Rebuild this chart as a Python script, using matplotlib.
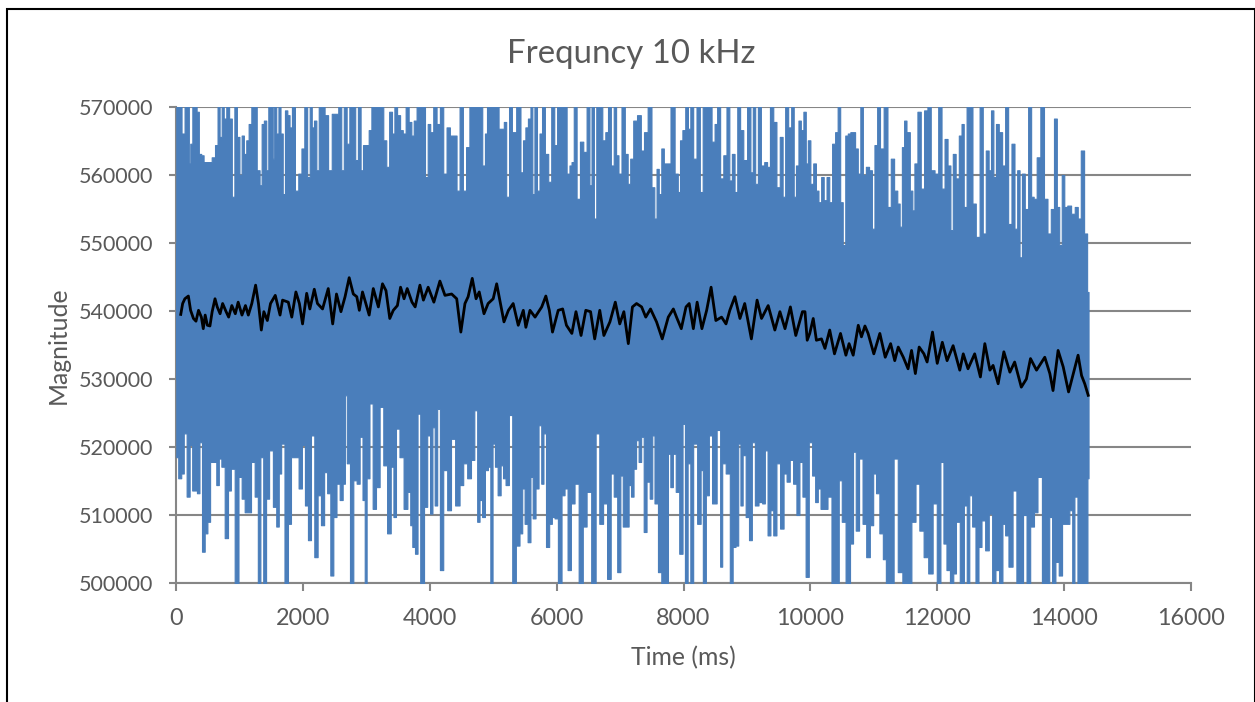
import numpy as np
import matplotlib
matplotlib.use("Agg")
import matplotlib.pyplot as plt
from matplotlib.patches import Rectangle

TITLE = "Frequncy 10 kHz"
X_LABEL = "Time (ms)"
Y_LABEL = "Magnitude"
X_TICKS = [0, 2000, 4000, 6000, 8000, 10000, 12000, 14000, 16000]
Y_TICKS = [500000, 510000, 520000, 530000, 540000, 550000, 560000, 570000]

# Upper edge of the noisy raw signal (values above 570000 are cut by the axis)
upper_t = [0,10,60,115,155,195,210,240,275,310,340,380,415,455,535,590,640,670,705,735,770,815,860,900,940,980,1020,1050,1090,1125,1165,1210,1245,1300,1335,1365,1405,1440,1470,1515,1535,1560,1600,1630,1665,1700,1735,1775,1805,1850,1900,1955,2000,2045,2090,2125,2155,2195,2230,2270,2320,2365,2430,2480,2530,2585,2625,2665,2715,2750,2805,2845,2890,2930,2965,3015,3060,3100,3165,3240,3295,3335,3385,3425,3460,3510,3555,3595,3645,3690,3730,3765,3820,3900,3950,3985,4030,4080,4135,4185,4240,4290,4345,4395,4450,4490,4555,4590,4660,4740,4800,4855,4885,4920,
 4950,5025,5065,5105,5150,5185,5225,5275,5315,5410,5450,5490,5525,5570,5605,5630,5670,5710,5750,5790,5840,5895,5935,5990,6025,6080,6130,6185,6220,6250,6290,6340,6395,6445,6500,6535,6565,6610,6640,6695,6745,6790,6830,6880,6920,6955,6995,7050,7100,7140,7180,7235,7300,7355,7400,7470,7520,7560,7590,7630,7670,7710,7760,7830,7890,7930,7960,8005,8050,8090,8125,8180,8230,8285,8320,8375,8415,8470,8510,8550,8605,8650,8705,8740,8785,8825,8870,8915,8970,9035,9075,9110,9150,9195,9245,9300,9335,9390,9440,9490,9545,9580,9625,9675,9720,9755,9790,
 9834,9865,9915,9940,9980,10020,10070,10105,10150,10190,10230,10280,10315,10370,10410,10450,10490,10530,10570,10610,10650,10685,10725,10770,10805,10850,10900,10950,10990,11030,11075,11120,11190,11240,11295,11345,11395,11420,11465,11490,11540,11595,11620,11660,11715,11765,11820,11870,11925,11990,12040,12095,12135,12190,12225,12265,12315,12365,12400,12435,12490,12535,12575,12640,12695,12740,12790,12830,12865,12905,12945,12995,13050,13090,13145,13195,13240,13280,13315,13355,13405,13460,13500,13540,13595,13655,13710,13765,13815,13865,13905,13940,13985,14020,14080,14140,14195,14235,14290,14340,14385]
upper_v = [550000,571000,571000,566100,571000,571000,561700,564600,571000,571000,569300,563100,562900,561900,561900,562600,564400,571000,565600,571000,568300,571000,568300,556800,571000,565600,560000,565800,563100,565100,567500,571000,571000,560700,558500,567500,568000,560700,571000,571000,562400,571000,566100,571000,566100,557200,569500,568800,567000,571000,557700,560200,563900,571000,559700,571000,567000,568000,560700,571000,571000,568800,560700,569000,569000,571000,560700,571000,564600,571000,571000,562200,571000,560700,564400,564400,566600,571000,571000,571000,565100,561200,569300,566100,571000,568800,566600,566100,571000,567800,565800,568000,571000,571000,559700,567500,566300,571000,567500,571000,560200,567000,565800,565800,557700,571000,557700,564100,571000,571000,571000,561400,566100,571000,
 571000,571000,571000,566800,566800,567800,556800,571000,566300,571000,560400,565100,567000,568300,571000,557200,571000,557700,566100,571000,563100,559000,571000,564400,571000,571000,571000,560200,561400,561900,571000,556500,564900,563400,571000,558500,571000,553600,571000,571000,565100,566300,571000,561400,571000,562900,560200,571000,563100,558700,562400,568000,568800,563600,566300,571000,558200,553600,560900,557200,563900,561700,561700,571000,560200,557500,565100,566600,571000,566800,571000,562400,571000,557500,571000,571000,571000,564900,567500,571000,559500,562900,571000,559200,563100,557500,571000,566600,562200,571000,560400,571000,558700,571000,561400,561900,561200,571000,567800,558200,565600,556800,571000,567000,571000,556800,561400,
 568000,566600,569300,561700,565100,558700,561700,557700,556000,559700,556300,559700,556000,564600,566300,571000,556000,549700,565800,566100,566300,566300,563900,560200,571000,560000,561200,560700,552100,564400,571000,563900,571000,555300,562400,557700,555800,552400,564100,568000,566300,557700,554800,561700,569300,558000,569500,571000,560700,560200,571000,558000,565300,561400,551900,563100,559500,565800,567500,555300,571000,571000,555800,550900,571000,551400,563600,560700,569500,559700,567500,566300,561400,571000,552800,564600,552100,560700,547900,560200,555000,571000,556800,556500,562600,571000,556500,551400,555000,568300,555300,549700,560000,555300,555500,554300,555300,553600,563600,551400,542800]

# Lower edge of the noisy raw signal (values below 500000 are cut by the axis)
lower_t = [0,10,60,105,140,195,235,275,310,350,390,430,475,515,560,615,655,695,735,800,840,890,960,1010,1060,1105,1155,1210,1270,1310,1350,1400,1440,1495,1560,1600,1640,1675,1745,1785,1840,1900,1965,2005,2060,2100,2155,2205,2260,2310,2360,2405,2460,2500,2560,2600,2655,2670,2715,2770,2820,2875,2915,2965,2985,3025,3075,3125,3180,3240,3295,3360,3410,3445,3490,3555,3620,3675,3710,3740,3795,3820,3880,3940,3980,4030,4055,4100,4135,4185,4240,4310,4360,4440,4500,4555,4625,4675,4730,4765,4805,4845,4895,4940,
 4970,5010,5045,5095,5140,5170,5220,5275,5325,5390,5440,5475,5515,5570,5605,5640,5695,5735,5780,5805,5860,5905,5945,5990,6050,6105,6145,6200,6250,6315,6380,6445,6500,6590,6640,6705,6760,6830,6875,6925,6985,7025,7060,7115,7155,7190,7235,7270,7315,7350,7395,7440,7495,7520,7565,7630,7670,7735,7775,7810,7855,7900,7965,8005,8040,8090,8125,8180,8250,8290,8320,8385,8415,8485,8560,8595,8625,8705,8755,8795,8845,8880,8915,8950,9010,9055,9100,9150,9215,9265,9300,9350,9390,9440,9490,9555,9600,9650,9700,9755,9805,
 9850,9900,9950,10000,10055,10095,10140,10180,10235,10305,10360,10420,10475,10515,10595,10655,10690,10740,10795,10850,10910,10965,11015,11055,11120,11165,11215,11280,11345,11410,11490,11555,11630,11685,11750,11820,11895,11960,12025,12075,12120,12170,12230,12275,12315,12395,12445,12485,12525,12575,12630,12670,12725,12785,12840,12890,12945,13005,13050,13090,13155,13220,13275,13325,13380,13435,13495,13555,13605,13695,13745,13785,13835,13890,13940,13995,14050,14115,14140,14185,14235,14300,14350,14385]
lower_v = [530000,518500,515400,516100,522000,512700,520300,513600,513600,513200,520700,504600,507300,509000,517800,517800,514400,518300,517100,506600,513600,516800,499000,515600,512400,510400,510400,517800,512700,499000,518500,499000,512400,519500,511200,508300,516100,520500,499000,508700,518500,518500,513900,520300,511400,506300,521700,503800,512900,508500,516300,513200,501100,509700,514600,512200,514600,527600,517600,499000,515100,514600,521500,512200,499000,515400,526400,510900,514100,525900,517300,507300,517100,509700,522700,518500,510900,513400,508500,505300,504300,524900,499000,511200,521700,510200,522900,511400,525600,501900,516600,510700,521200,511400,514400,517600,515400,518100,525400,509000,512200,509700,516600,517100,
 499000,520500,517100,512900,517300,515400,514400,524700,499000,505500,507300,513900,508700,506000,515600,509500,513900,523200,514600,522000,505300,508700,509700,509500,499000,512900,513900,501900,511700,514600,499000,508300,513400,499000,522000,508700,511700,500600,516100,512700,501600,515800,508300,508300,514400,512700,516800,521000,517800,521500,507500,514900,512400,521700,511700,501600,499000,499000,519000,514100,519000,513400,504300,523400,499000,517600,499000,520500,508700,516600,499000,512900,521700,511700,522500,502400,517600,516100,499000,505300,505500,520500,511400,518800,509700,506300,520700,511400,511900,511700,519500,507000,510700,507000,517600,508000,516100,514900,518100,514600,510000,
 517800,512700,500900,520700,515800,511900,513900,510900,510900,512700,499000,499000,515100,509000,499000,505800,519300,507700,518300,508700,503800,508500,516100,513200,507300,503500,499000,499000,518300,501600,499000,499000,509000,514600,507700,503800,501400,511700,499000,517800,505800,501900,499000,501400,509000,499000,511400,499000,512900,508300,499000,505300,509200,504800,510200,499000,501900,499000,508700,507000,502400,513600,499000,499000,510000,499000,508300,510400,515600,499000,499000,509700,499000,503100,501100,508700,508700,510700,499000,512700,499000,499000,499000,515400]

# Smoothed signal (black line)
smooth_t = [75,105,140,195,230,275,315,355,400,430,460,495,535,570,615,650,695,735,790,830,880,935,980,1040,1095,1140,1195,1255,1300,1345,1385,1440,1490,1565,1640,1680,1770,1825,1890,1945,1995,2060,2110,2180,2230,2310,2400,2470,2530,2600,2665,2730,2795,2850,2890,2940,3045,3110,3190,3255,3310,3370,3425,3490,3540,3595,3645,3720,3770,3845,3900,3975,4065,4160,4240,4345,4425,4490,4555,4605,4670,4730,4780,4855,4920,
 5000,5055,5105,5170,5240,5315,5395,5475,5515,5580,5660,5765,5830,5885,5935,6025,6095,6155,6240,6305,6385,6460,6535,6600,6680,6745,6840,6925,6995,7060,7130,7195,7260,7340,7405,7480,7575,7665,7760,7840,7890,7965,8040,8090,8155,8215,8290,8365,8435,8510,8600,8670,8730,8810,8890,8965,9070,9160,9230,9335,9440,9520,9600,9685,9770,9875,
 9915,9950,9990,10045,10095,10175,10230,10305,10380,10475,10560,10610,10675,10755,10805,10860,10910,11000,11095,11180,11265,11330,11385,11465,11540,11595,11655,11715,11790,11840,11925,12000,12080,12155,12250,12355,12410,12485,12590,12680,12750,12830,12880,12960,13050,13145,13220,13325,13405,13470,13565,13695,13775,13825,13905,13985,14070,14220,14275,14325,14380]
smooth_v = [539500,541100,541800,542200,540100,538900,538500,540100,539100,537400,539400,537900,537800,539900,541800,540600,539600,541100,539900,539100,540800,539600,541300,539400,540800,539400,541100,543800,541100,537200,539900,538600,541100,542300,539400,541600,541300,539100,542800,541100,538100,542600,540300,543200,541100,540300,543300,538100,542500,539900,542100,544900,542500,542100,540100,542800,539400,543300,540600,544000,543000,538900,540100,540800,543500,541800,543300,541300,540600,543800,541600,543500,541300,544400,542300,542500,541800,536900,541100,542100,544800,541800,542800,539600,541100,
 541800,544000,541600,538400,540100,541100,537900,540100,537600,540100,539100,540600,542200,540100,536900,540100,540300,537900,536700,539900,536400,540100,539900,535900,540100,536400,538400,541300,538100,539900,535200,540600,541100,540600,539100,540300,538400,535900,539100,540300,539100,537400,540600,541100,537400,541300,537400,540100,543500,538600,539100,538100,540100,542100,538900,541100,535900,541600,538900,540800,537200,539900,537400,540600,536400,539900,
 539900,535700,536700,538900,535700,535900,534500,537200,533700,536700,533500,535200,533500,537900,536200,537800,536700,533700,536700,533200,535200,532700,534700,533200,531500,534200,530800,534700,533700,532500,536900,532300,535400,532700,534900,531300,533700,531500,533700,530300,535200,531300,532000,529300,534000,531000,532500,528800,530000,533000,531300,533200,530800,528300,534200,531800,528100,533500,530500,529300,527600]

BLUE = "#4A7EBB"
GRAY = "#868686"
TEXT = "#595959"
plt.rcParams["font.family"] = ["Lato", "DejaVu Sans"]

W, H = 1255, 702
fig = plt.figure(figsize=(W / 100, H / 100), dpi=100, facecolor="white")
ax = fig.add_axes([176 / W, 1 - 583 / H, (1191 - 176) / W, (583 - 107) / H])

ax.fill_between(upper_t, 540000, upper_v, step="mid", facecolor=BLUE, edgecolor=BLUE, lw=0.8, zorder=3)
ax.fill_between(lower_t, 540000, lower_v, step="mid", facecolor=BLUE, edgecolor=BLUE, lw=0.8, zorder=3)
ax.plot(smooth_t, smooth_v, color="black", lw=2.0, zorder=4)

ax.set_xlim(0, 16000)
ax.set_ylim(500000, 570000)
ax.set_xticks(X_TICKS)
ax.set_yticks(Y_TICKS)
ax.grid(axis="y", color=GRAY, lw=1.5, zorder=1)
ax.set_axisbelow(True)
for s in ("top", "right"):
    ax.spines[s].set_visible(False)
for s in ("left", "bottom"):
    ax.spines[s].set_color(GRAY)
    ax.spines[s].set_linewidth(1.5)
ax.tick_params(axis="y", color=GRAY, width=1.5, length=5, labelcolor=TEXT, labelsize=15.5, pad=11.5)
ax.tick_params(axis="x", color=GRAY, width=1.5, length=6, labelcolor=TEXT, labelsize=16.8, pad=12)

fig.text(631 / W, 1 - 54 / H, TITLE, ha="center", va="center", fontsize=23.8, color=TEXT)
fig.text(683 / W, 1 - 658 / H, X_LABEL, ha="center", va="center", fontsize=17.8, color=TEXT)
fig.text(58 / W, 1 - 345 / H, Y_LABEL, ha="center", va="center", rotation=90, fontsize=17.8, color=TEXT)

fig.add_artist(Rectangle((7 / W, -0.05), (1254.5 - 7) / W, 1.05 - 8.5 / H, transform=fig.transFigure,
                         fill=False, ec="black", lw=1.5))
fig.savefig("out.png", dpi=100)
